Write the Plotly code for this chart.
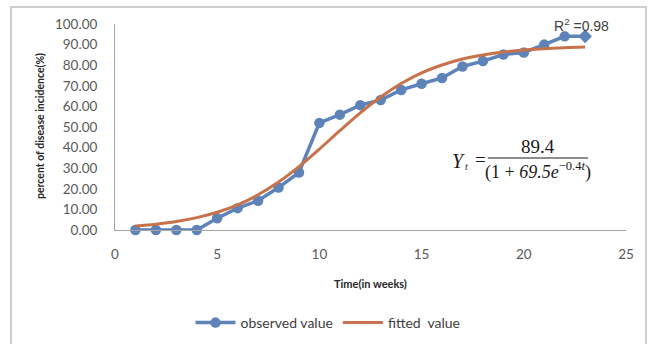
import plotly.graph_objects as go

weeks = list(range(1, 24))
observed = [0.0, 0.0, 0.0, 0.0, 5.7, 10.6, 14.2, 20.6, 27.9, 52.0, 56.0, 60.6, 63.1,
            68.0, 71.0, 73.8, 79.4, 82.0, 85.2, 86.2, 90.0, 94.0, 94.0]
fitted = [1.9, 2.8, 4.1, 6.0, 8.6, 12.2, 17.1, 23.3, 30.8, 39.3, 48.2, 56.9, 64.6,
          71.1, 76.3, 80.1, 83.0, 85.0, 86.4, 87.4, 88.0, 88.5, 88.8]
x_ticks = [0, 5, 10, 15, 20, 25]
y_ticks = [0, 10, 20, 30, 40, 50, 60, 70, 80, 90, 100]

BLUE = "#5E83B8"
ORANGE = "#C8724B"
W, H = 651, 344
L, R, T, B = 115, 25, 24, 114
PW, PH = W - L - R, H - T - B


def px(x):
    return (x - L) / PW


def py(y):
    return (H - B - y) / PH


fig = go.Figure()
fig.add_trace(go.Scatter(
    x=weeks, y=observed, name="observed value", mode="lines+markers",
    line=dict(color=BLUE, width=3.5),
    marker=dict(color=BLUE, size=10.5,
                symbol=["circle"] * (len(weeks) - 1) + ["diamond"]),
    cliponaxis=False,
))
fig.add_trace(go.Scatter(
    x=weeks, y=fitted, name="fitted  value", mode="lines",
    line=dict(color=ORANGE, width=3, shape="spline"),
    cliponaxis=False,
))

tickfont = dict(family="Lato, Open Sans, sans-serif", size=13.5, color="#595959")
fig.update_xaxes(range=[0, 25], tickvals=x_ticks, showgrid=False, zeroline=False,
                 showline=True, linecolor="#A6A6A6", linewidth=1, ticks="",
                 tickfont=tickfont, ticklabelstandoff=12)
fig.update_yaxes(range=[0, 100], tickvals=y_ticks, tickformat=".2f", showgrid=False,
                 zeroline=False, showline=True, linecolor="#A6A6A6", linewidth=1,
                 ticks="", tickfont=tickfont, ticklabelstandoff=14)


def note(text, x, y, size, family, color, **kw):
    return dict(text=text, x=px(x), y=py(y), xref="paper", yref="paper",
                xanchor="center", yanchor="middle", showarrow=False,
                font=dict(family=family, size=size, color=color), **kw)


serif = "Liberation Serif, Times New Roman, serif"
ann = [
    note("<b>Time(in weeks)</b>", 370, 283, 11, "Lato, sans-serif", "#262626"),
    note("<b>percent of disease incidence(%)</b>", 40, 126, 10.5, "Lato, sans-serif",
         "#262626", textangle=-90),
    note("R<sup>2</sup> =0.98", 581, 25, 14, "Liberation Sans, Arial", "#404040"),
    note("<i>Y</i>", 458, 161, 20, serif, "#1A1A1A"),
    note("<i>t</i>", 466, 166, 10, serif, "#1A1A1A"),
    note("=", 480, 160, 19, serif, "#1A1A1A"),
    note("89.4", 538, 146, 19, serif, "#1A1A1A"),
    note("(1 + <i>69.5e</i><sup>\u22120.4<i>t</i></sup>)", 538, 171, 18, serif, "#1A1A1A"),
]

shapes = [
    dict(type="line", xref="paper", yref="paper", x0=px(488), x1=px(588), y0=py(158), y1=py(158),
         line=dict(color="#1A1A1A", width=1)),
    dict(type="rect", xref="paper", yref="paper", x0=px(11), x1=px(646), y0=py(7), y1=py(360),
         line=dict(color="#BFBFBF", width=1.5), fillcolor="rgba(0,0,0,0)", layer="below"),
]

fig.update_layout(
    width=W, height=H, margin=dict(l=L, r=R, t=T, b=B, pad=0),
    plot_bgcolor="white", paper_bgcolor="white",
    showlegend=True,
    legend=dict(orientation="h", xref="container", yref="container", x=328 / W, y=1 - 323 / H,
                xanchor="center", yanchor="middle",
                font=dict(family="Lato, Open Sans, sans-serif", size=14, color="#404040"),
                itemwidth=40, bgcolor="rgba(0,0,0,0)"),
    annotations=ann, shapes=shapes,
)

fig.write_html("out.html")
